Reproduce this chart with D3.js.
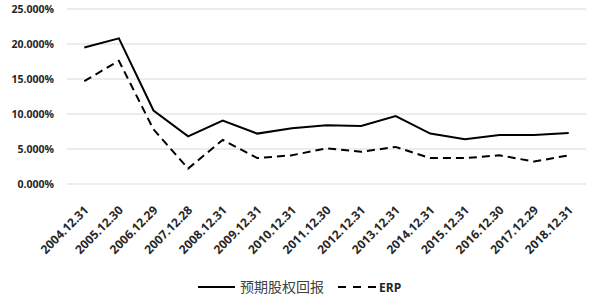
<!DOCTYPE html>
<html>
<head>
<meta charset="utf-8">
<script src="https://cdn.jsdelivr.net/npm/d3@7"></script>
<style>
  body { margin: 0; background: #fff; }
  text { font-family: "Open Sans", "Noto Sans", sans-serif; }
</style>
</head>
<body>
<script>
// chart data
var dates = ["2004.12.31", "2005.12.30", "2006.12.29", "2007.12.28", "2008.12.31",
    "2009.12.31", "2010.12.31", "2011.12.30", "2012.12.31", "2013.12.31",
    "2014.12.31", "2015.12.31", "2016.12.30", "2017.12.29", "2018.12.31"];
var expectedReturn = [19.5, 20.8, 10.5, 6.8, 9.05, 7.2, 7.95, 8.4, 8.3, 9.7, 7.2, 6.4, 7.0, 7.0, 7.3];
var erp = [14.7, 17.6, 7.8, 2.2, 6.3, 3.7, 4.1, 5.1, 4.6, 5.3, 3.7, 3.7, 4.1, 3.2, 4.1];
var yTicks = [0, 5, 10, 15, 20, 25];
var seriesNames = ["预期股权回报", "ERP"];

var w = 595, h = 299;
var plotLeft = 67, plotRight = 586, plotTop = 9, plotBottom = 184;

var svg = d3.select("body").append("svg")
    .attr("width", w)
    .attr("height", h);

var x = d3.scaleBand()
    .domain(dates)
    .range([plotLeft, plotRight]);

var y = d3.scaleLinear()
    .domain([0, 25])
    .range([plotBottom, plotTop]);

// gridlines
svg.append("g")
    .selectAll("line")
    .data(yTicks)
    .enter()
    .append("line")
    .attr("x1", plotLeft)
    .attr("x2", plotRight)
    .attr("y1", function(d){ return y(d); })
    .attr("y2", function(d){ return y(d); })
    .style("stroke", "#d9d9d9")
    .style("stroke-width", 1);

// y axis labels
var yAxis = d3.axisLeft(y)
    .tickValues(yTicks)
    .tickSize(0)
    .tickPadding(13)
    .tickFormat(function(d){ return d3.format(".3f")(d) + "%"; });

var ya = svg.append("g")
    .attr("transform", "translate(" + plotLeft + ",0)")
    .call(yAxis);
ya.select(".domain").remove();
ya.selectAll("text")
    .style("font-size", "10.5px")
    .style("font-weight", "bold")
    .style("fill", "#262626");

// x axis labels, rotated
var xAxis = d3.axisBottom(x).tickSize(0).tickPadding(0);
var xa = svg.append("g")
    .attr("transform", "translate(0," + plotBottom + ")")
    .call(xAxis);
xa.select(".domain").remove();
xa.selectAll("text")
    .attr("text-anchor", "end")
    .attr("dy", 0)
    .attr("y", 0)
    .attr("transform", "translate(5,27) rotate(-45)")
    .style("font-size", "12px")
    .style("font-weight", "bold")
    .style("fill", "#262626");

var line = d3.line()
    .x(function(d, i){ return x(dates[i]) + x.bandwidth() / 2; })
    .y(function(d){ return y(d); });

svg.append("path")
    .datum(expectedReturn)
    .attr("d", line)
    .style("fill", "none")
    .style("stroke", "#000")
    .style("stroke-width", 2);

svg.append("path")
    .datum(erp)
    .attr("d", line)
    .style("fill", "none")
    .style("stroke", "#000")
    .style("stroke-width", 2)
    .style("stroke-dasharray", "8,5");

// legend
var legend = svg.append("g");
legend.append("line")
    .attr("x1", 198).attr("x2", 235)
    .attr("y1", 287).attr("y2", 287)
    .style("stroke", "#000").style("stroke-width", 2);
legend.append("text")
    .attr("x", 240).attr("y", 292)
    .style("font-family", "'Noto Sans CJK SC', sans-serif")
    .style("font-size", "14px")
    .style("fill", "#404040")
    .text(seriesNames[0]);
legend.append("line")
    .attr("x1", 338).attr("x2", 377)
    .attr("y1", 287).attr("y2", 287)
    .style("stroke", "#000").style("stroke-width", 2)
    .style("stroke-dasharray", "8,7");
legend.append("text")
    .attr("x", 379).attr("y", 291.5)
    .style("font-size", "12px")
    .style("font-weight", "bold")
    .style("fill", "#262626")
    .text(seriesNames[1]);
</script>
</body>
</html>
